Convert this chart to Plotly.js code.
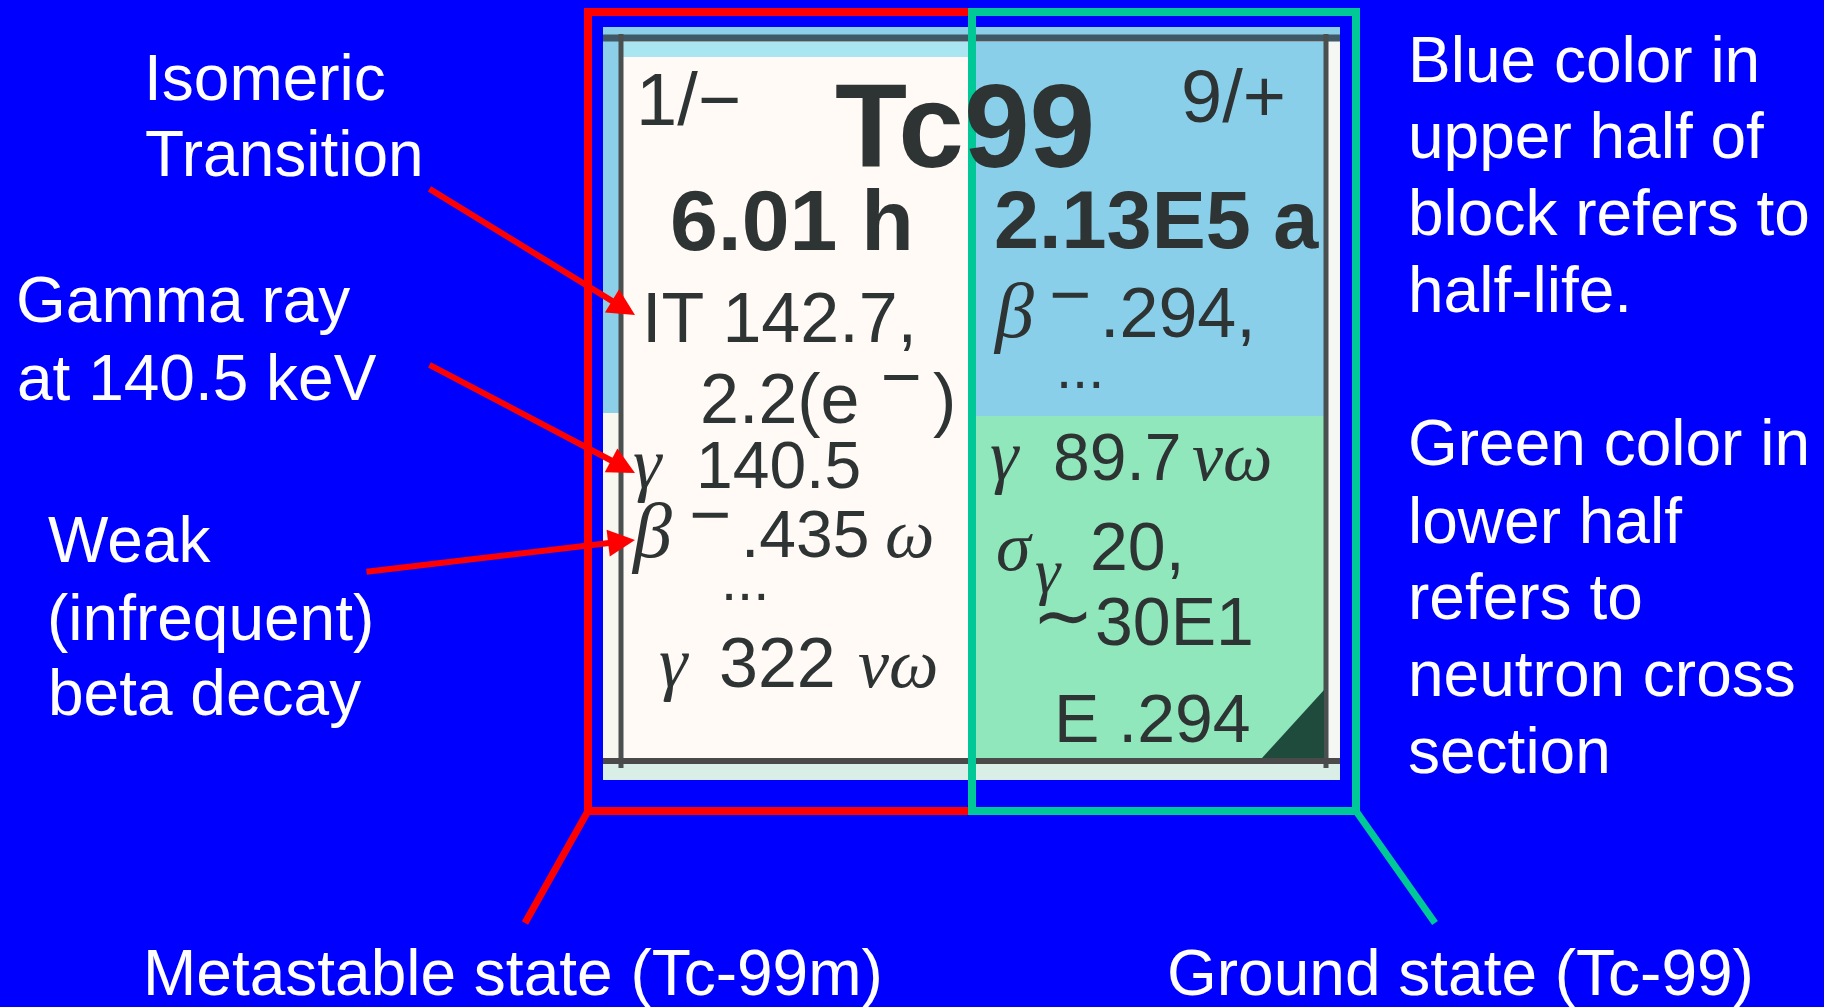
<!DOCTYPE html>
<html><head><meta charset="utf-8">
<script src="https://cdn.plot.ly/plotly-3.0.1.min.js"></script>
<style>html,body{margin:0;padding:0;background:#0000ff;overflow:hidden}#chart{width:1824px;height:1007px;}</style>
</head><body><div id="chart"></div>
<script>
// ---- text content of the diagram ----
const calloutLines = ["Isomeric", "Transition", "Gamma ray", "at 140.5 keV", "Weak", "(infrequent)", "beta decay"];
const noteLines = ["Blue color in", "upper half of", "block refers to", "half-life.", "Green color in", "lower half", "refers to", "neutron cross", "section"];
const stateLabels = ["Metastable state (Tc-99m)", "Ground state (Tc-99)"];
const nuclideName = "Tc99";
const spinParity = ["1/−", "9/+"];
const halfLives = ["6.01 h", "2.13E5 a"];
const metaDecay = ["IT 142.7,", "2.2(e", "−", ")"];
const metaRadiation = ["γ", "140.5", "β", "−", ".435", "ω", "...", "γ", "322", "νω"];
const groundDecay = ["β", "−", ".294,", "..."];
const groundNeutron = ["γ", "89.7", "νω", "σ", "γ", "20,", "∼", "30E1", "E .294"];

// ---- styling ----
const BG = "#0000ff", RED = "#ff0000", TEAL = "#00c896", WHITE = "#ffffff", INK = "#2e3333";
const SANS = '"Liberation Sans", Arial, Helvetica, sans-serif';
const SERIF = '"Liberation Serif", "Times New Roman", "DejaVu Serif", serif';

function T(text, x, base, size, o) {
  o = o || {};
  const serif = !!o.serif;
  const k = serif ? 0.3375 : 0.3465;
  return {
    text: text, x: x, y: (o.mid !== undefined ? o.mid : base - k * size),
    xref: "x", yref: "y", xanchor: o.xa || "left", yanchor: "middle",
    showarrow: false, borderpad: 0,
    font: { family: serif ? SERIF : SANS, size: size, color: o.color || INK,
            weight: o.bold ? 700 : 400, style: o.italic ? "italic" : "normal" }
  };
}
function rect(x0, y0, x1, y1, fill) {
  return { type: "rect", xref: "x", yref: "y", x0: x0, y0: y0, x1: x1, y1: y1, fillcolor: fill, line: { width: 0 } };
}
function seg(x0, y0, x1, y1, color, w) {
  return { type: "line", xref: "x", yref: "y", x0: x0, y0: y0, x1: x1, y1: y1, line: { color: color, width: w } };
}
function box(x0, y0, x1, y1, color, w) {
  return { type: "rect", xref: "x", yref: "y", x0: x0, y0: y0, x1: x1, y1: y1, fillcolor: "rgba(0,0,0,0)", line: { color: color, width: w } };
}
function arrow(x, y, ax, ay) {
  return { x: x, y: y, ax: ax, ay: ay, xref: "x", yref: "y", axref: "x", ayref: "y", text: "",
           showarrow: true, arrowhead: 2, arrowsize: 0.9, arrowwidth: 6, arrowcolor: RED, standoff: 0 };
}

const shapes = [
  rect(603, 27, 1340, 780, "#f7f6ef"),
  rect(603, 27, 1340, 36, "#8ccfe8"),
  rect(603, 27, 619, 413, "#8ccfe8"),
  rect(623, 42, 972, 57, "#a9e6f2"),
  rect(623, 57, 972, 758, "#fffaf5"),
  rect(972, 42, 1324, 416, "#89cfea"),
  rect(972, 416, 1324, 758, "#8fe7bb"),
  rect(1328, 36, 1340, 780, "#f4f7f3"),
  rect(603, 764, 1340, 780, "#d9eee6"),
  seg(603, 38, 1340, 38, "#3f5966", 7),
  seg(621, 34, 621, 768, "#4a5050", 5),
  seg(1326, 34, 1326, 768, "#4a4f4f", 5),
  seg(603, 761, 1340, 761, "#4a4a4a", 6),
  { type: "path", xref: "x", yref: "y", path: "M1262,758 L1324,690 L1324,758 Z", fillcolor: "#1f4b3d", line: { width: 0 } },
  box(588, 12, 972, 811, RED, 8),
  box(972, 12, 1356, 811, TEAL, 8),
  seg(588, 811, 525, 923, RED, 7),
  seg(1356, 811, 1435, 923, TEAL, 7)
];

const W64 = { color: WHITE };
const ann = [
  // left callouts
  T(calloutLines[0], 143, 100, 64, W64),
  T(calloutLines[1], 144, 176, 64, W64),
  T(calloutLines[2], 15, 322, 64, W64),
  T(calloutLines[3], 16, 400, 64, W64),
  T(calloutLines[4], 47, 562, 64, W64),
  T(calloutLines[5], 46, 640, 64, W64),
  T(calloutLines[6], 47, 715, 64, W64),
  // right notes
  T(noteLines[0], 1407, 82, 64, W64),
  T(noteLines[1], 1407, 158, 64, W64),
  T(noteLines[2], 1407, 235, 64, W64),
  T(noteLines[3], 1407, 312, 64, W64),
  T(noteLines[4], 1407, 465, 64, W64),
  T(noteLines[5], 1407, 543, 64, W64),
  T(noteLines[6], 1407, 619, 64, W64),
  T(noteLines[7], 1407, 696, 64, W64),
  T(noteLines[8], 1407, 773, 64, W64),
  // bottom state labels
  T(stateLabels[0], 142, 995, 64, W64),
  T(stateLabels[1], 1166, 995, 64, W64),
  // card header
  T(spinParity[0], 635, 125, 74),
  T(nuclideName, 834, 167, 118, { bold: true }),
  T(spinParity[1], 1180, 122, 74),
  T(halfLives[0], 669, 250, 86, { bold: true }),
  T(halfLives[1], 993, 248, 81, { bold: true }),
  // metastable column
  T(metaDecay[0], 641, 342, 70),
  T(metaDecay[1], 699, 423, 70),
  T(metaDecay[2], 901, 0, 70, { xa: "center", mid: 376.5 }),
  T(metaDecay[3], 932, 423, 70),
  T(metaRadiation[0], 632, 488, 72, { serif: true, italic: true }),
  T(metaRadiation[1], 695, 488, 66),
  T(metaRadiation[2], 630, 557, 78, { serif: true, italic: true }),
  T(metaRadiation[3], 710, 0, 72, { xa: "center", mid: 513.5 }),
  T(metaRadiation[4], 740, 557, 66),
  T(metaRadiation[5], 884, 557, 70, { serif: true, italic: true }),
  T(metaRadiation[6], 720, 600, 58),
  T(metaRadiation[7], 658, 687, 72, { serif: true, italic: true }),
  T(metaRadiation[8], 718, 687, 70),
  T(metaRadiation[9], 857, 687, 70, { serif: true, italic: true }),
  // ground column
  T(groundDecay[0], 992, 337, 78, { serif: true, italic: true }),
  T(groundDecay[1], 1070, 0, 72, { xa: "center", mid: 293.5 }),
  T(groundDecay[2], 1099, 337, 70),
  T(groundDecay[3], 1055, 388, 58),
  T(groundNeutron[0], 989, 480, 72, { serif: true, italic: true }),
  T(groundNeutron[1], 1052, 480, 66),
  T(groundNeutron[2], 1191, 480, 70, { serif: true, italic: true }),
  T(groundNeutron[3], 995, 570, 70, { serif: true, italic: true }),
  T(groundNeutron[4], 1034, 592, 64, { serif: true, italic: true }),
  T(groundNeutron[5], 1089, 570, 68),
  T(groundNeutron[6], 1063, 0, 74, { xa: "center", mid: 615 }),
  T(groundNeutron[7], 1094, 645, 68),
  T(groundNeutron[8], 1053, 742, 68),
  // red arrows
  arrow(635, 315, 428, 188),
  arrow(635, 473, 428, 364),
  arrow(635, 540, 365, 572)
];

const layout = {
  width: 1824, height: 1007,
  margin: { l: 0, r: 0, t: 0, b: 0, pad: 0 },
  paper_bgcolor: BG, plot_bgcolor: BG,
  showlegend: false,
  xaxis: { range: [0, 1824], visible: false, fixedrange: true },
  yaxis: { range: [1007, 0], visible: false, fixedrange: true },
  shapes: shapes,
  annotations: ann
};

Plotly.newPlot("chart", [], layout, { displayModeBar: false, staticPlot: true });
</script>
</body></html>
